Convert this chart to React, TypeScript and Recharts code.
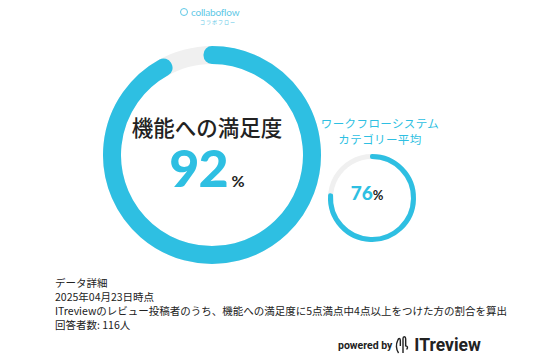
import { PieChart, Pie, Cell } from "recharts";

const mainTitle = "機能への満足度";
const mainValue = 92;
const categoryTitle = ["ワークフローシステム", "カテゴリー平均"];
const categoryValue = 76;
const notes = [
  "データ詳細",
  "2025年04月23日時点",
  "ITreviewのレビュー投稿者のうち、機能への満足度に5点満点中4点以上をつけた方の割合を算出",
  "回答者数: 116人",
];

const BLUE = "#2ebfe2";
const TRACK = "#f0f0f0";
const JP = '"Noto Sans CJK JP", "Noto Sans", sans-serif';
const NUM = 'Lato, "Noto Sans", sans-serif';

const ring = (v: number) => [
  { name: "value", value: v },
  { name: "rest", value: 100 - v },
];
const full = [{ name: "track", value: 100 }];

// thin sector stroked with round joins -> arc with round caps
function Gauge({ value, cx, cy, r, w }: { value: number; cx: number; cy: number; r: number; w: number }) {
  return [
    <Pie key="t" data={full} dataKey="value" cx={cx} cy={cy} innerRadius={r - w / 2} outerRadius={r + w / 2}
      startAngle={90} endAngle={-270} fill={TRACK} stroke="none" isAnimationActive={false} />,
    <Pie key="v" data={ring(value)} dataKey="value" cx={cx} cy={cy} innerRadius={r - 0.5} outerRadius={r + 0.5}
      startAngle={90} endAngle={-270} isAnimationActive={false}>
      <Cell fill={BLUE} stroke={BLUE} strokeWidth={w - 1} strokeLinejoin="round" />
      <Cell fill="transparent" stroke="none" />
    </Pie>,
  ];
}

export default function App() {
  return (
    <div
      style={{
        position: "absolute",
        left: 0,
        top: 0,
        width: 536,
        height: 356,
        background: "#fff",
        overflow: "hidden",
        fontFamily: JP,
      }}
    >
      <PieChart width={536} height={356} style={{ position: "absolute", left: 0, top: 0 }}>
        {Gauge({ value: mainValue, cx: 207, cy: 150, r: 100, w: 18 })}
        {Gauge({ value: categoryValue, cx: 367, cy: 193, r: 41.5, w: 5 })}
      </PieChart>

      {/* collaboflow logo */}
      <div style={{ position: "absolute", left: 180, top: 6, display: "flex", alignItems: "center", color: "#5ec8e6" }}>
        <div style={{ width: 6, height: 6, borderRadius: "50%", border: "1.5px solid #5ec8e6", marginRight: 3 }} />
        <span style={{ fontFamily: NUM, fontSize: 10, letterSpacing: -0.2 }}>collaboflow</span>
      </div>
      <div style={{ position: "absolute", left: 200, top: 18, fontSize: 5, color: "#5ec8e6", letterSpacing: 1 }}>コラボフロー</div>

      {/* main ring labels */}
      <div style={{ position: "absolute", left: 107, width: 200, top: 113, textAlign: "center", fontSize: 21.5, fontWeight: 500, color: "#222", lineHeight: "28px" }}>
        {mainTitle}
      </div>
      <div style={{ position: "absolute", left: 107, width: 200, top: 147, textAlign: "center", lineHeight: "40px", whiteSpace: "nowrap" }}>
        <span style={{ fontFamily: NUM, fontSize: 52, fontWeight: 900, color: BLUE, letterSpacing: -1 }}>{mainValue}</span>
        <span style={{ fontFamily: NUM, fontSize: 16, fontWeight: 700, color: "#222", marginLeft: 4 }}>%</span>
      </div>

      {/* category labels */}
      <div style={{ position: "absolute", left: 300, width: 160, top: 115, textAlign: "center", fontSize: 11.5, color: BLUE, lineHeight: "16px", letterSpacing: 0.4 }}>
        {categoryTitle.map((t) => (
          <div key={t}>{t}</div>
        ))}
      </div>
      <div style={{ position: "absolute", left: 317, width: 100, top: 180, textAlign: "center", lineHeight: "26px", whiteSpace: "nowrap" }}>
        <span style={{ fontFamily: NUM, fontSize: 19, fontWeight: 900, color: BLUE }}>{categoryValue}</span>
        <span style={{ fontFamily: NUM, fontSize: 13, fontWeight: 700, color: "#222" }}>%</span>
      </div>

      {/* notes */}
      <div style={{ position: "absolute", left: 55, top: 276, fontSize: 10.5, color: "#222", lineHeight: "14px" }}>
        {notes.map((n) => (
          <div key={n}>{n}</div>
        ))}
      </div>

      {/* powered by */}
      <div style={{ position: "absolute", left: 338, top: 334, display: "flex", alignItems: "center", color: "#222", fontFamily: 'Roboto, "Noto Sans", sans-serif' }}>
        <span style={{ fontSize: 10.5, fontWeight: 700 }}>powered by</span>
        <svg width={16} height={22} viewBox="0 0 18 22" style={{ margin: "0 3px" }}>
          <path d="M4 20 C1 16 1 10 3 6 C4 3 6 3 6 6 L6 12 M9 20 L9 4 C9 1 12 1 12 4 L12 12 C14 12 15 14 13 16" fill="none" stroke="#222" strokeWidth={1.6} />
        </svg>
        <span style={{ fontSize: 17.5, fontWeight: 700 }}>ITreview</span>
      </div>
    </div>
  );
}
